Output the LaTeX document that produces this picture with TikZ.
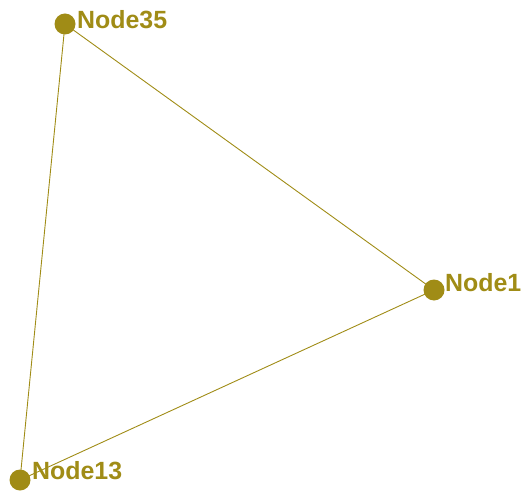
\documentclass[tikz,border=0pt]{standalone}
\usepackage{fontspec}
\setmainfont{Liberation Sans}
\definecolor{olive}{RGB}{160,140,22}
\begin{document}
\begin{tikzpicture}[x=1bp,y=-1bp,
  dot/.style={circle,fill=olive,draw=none,minimum size=21bp,inner sep=0pt},
  lbl/.style={anchor=west,inner sep=0pt,text=olive,font=\fontsize{25}{25}\selectfont\bfseries},
  edge/.style={draw=olive,line width=0.9bp}]
\useasboundingbox (0,0) rectangle (522,498);
\node[dot] (n35) at (65,24) {};
\node[dot] (n1) at (434,290) {};
\node[dot] (n13) at (20,480) {};
\draw[edge] (n35.center) -- (n1.center);
\draw[edge] (n1.center) -- (n13.center);
\draw[edge] (n13.center) -- (n35.center);
\node[lbl] (t35) at (77,20) {Node35};
\node[lbl] (t1) at (445,283) {Node1};
\node[lbl] (t13) at (32,471) {Node13};
\end{tikzpicture}
\end{document}
